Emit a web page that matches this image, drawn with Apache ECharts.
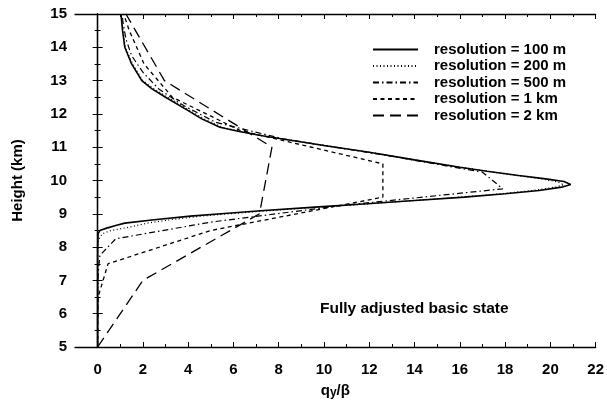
<!DOCTYPE html>
<html>
<head>
<meta charset="utf-8">
<script src="https://cdn.jsdelivr.net/npm/echarts@6/dist/echarts.min.js"></script>
<style>html,body{margin:0;padding:0;background:#fff}#c{width:607px;height:404px}</style>
</head>
<body>
<div id="c"></div>
<script>
// ---- data (q_y/beta vs height in km) ----
const res100_h = [5, 8, 8.4, 8.5, 8.57, 8.65, 8.72, 8.82, 8.93, 9.01, 9.09, 9.2, 9.3, 9.4, 9.5, 9.6, 9.7, 9.8, 9.88, 9.97, 10.05, 10.15, 10.28, 10.4, 10.62, 10.85, 11.05, 11.2, 11.35, 11.48, 11.6, 11.85, 12.1, 12.5, 12.75, 13, 13.5, 14, 14.5, 15];
const res100_q = [0, 0, 0.02, 0.1, 0.4, 0.8, 1.2, 2.5, 4.1, 5.6, 7.2, 9.6, 11.9, 14.0, 16.2, 18.0, 19.5, 20.5, 20.9, 20.6, 19.8, 18.6, 17.2, 16.0, 14.0, 12.0, 10.0, 8.6, 7.2, 6.2, 5.4, 4.6, 4.0, 3.0, 2.4, 1.95, 1.5, 1.2, 1.1, 1.03];

const res200_h = [5, 7.8, 8.2, 8.4, 8.5, 8.6, 8.72, 8.82, 8.93, 9.01, 9.09, 9.2, 9.3, 9.4, 9.5, 9.6, 9.7, 9.8, 9.87, 9.96, 10.05, 10.15, 10.28, 10.4, 10.62, 10.85, 11.05, 11.2, 11.35, 11.48, 11.6, 11.85, 12.1, 12.5, 12.75, 13, 13.5, 14, 14.5, 15];
const res200_q = [0, 0, 0.03, 0.2, 0.6, 1.4, 2.2, 3.2, 4.6, 6.0, 7.5, 9.8, 12.0, 14.0, 16.0, 17.8, 19.2, 20.2, 20.6, 20.3, 19.6, 18.5, 17.2, 16.0, 14.0, 12.0, 10.0, 8.6, 7.2, 6.3, 5.5, 4.7, 4.1, 3.1, 2.5, 2.0, 1.55, 1.22, 1.12, 1.05];

const res500_h = [5, 6.75, 7.25, 7.75, 8.25, 8.75, 9.25, 9.75, 10.25, 10.75, 11.25, 11.75, 12.25, 12.75, 13.25, 13.75, 14.25, 14.75, 15];
const res500_q = [0, 0, 0.03, 0.1, 0.8, 5.0, 10.8, 17.9, 17.0, 12.8, 8.2, 5.2, 3.8, 2.7, 2.0, 1.5, 1.25, 1.12, 1.08];

const res1k_h = [5, 5.5, 6.5, 7.5, 8.5, 9.5, 10.5, 11.5, 12.5, 13.5, 14.5, 15];
const res1k_q = [0, 0, 0.02, 0.46, 5.0, 12.6, 12.6, 6.3, 3.3, 2.05, 1.4, 1.15];

const res2k_h = [5, 7, 9, 11, 13, 15];
const res2k_q = [0, 2.0, 7.15, 7.7, 2.95, 1.25];

const seriesNames = ['resolution = 100 m', 'resolution = 200 m', 'resolution = 500 m', 'resolution = 1 km', 'resolution = 2 km'];
const xMajorTicks = [0, 2, 4, 6, 8, 10, 12, 14, 16, 18, 20, 22];
const xMinorTicks = [1, 3, 5, 7, 9, 11, 13, 15, 17, 19, 21];
const annotation = 'Fully adjusted basic state';

function pairs(q, h) { return q.map((v, i) => [v, h[i]]); }

const dashes = ['solid', [1, 2.5], [6, 3, 1.5, 3], [4, 3.5], [11, 6]];
const dataSets = [
  pairs(res100_q, res100_h),
  pairs(res200_q, res200_h),
  pairs(res500_q, res500_h),
  pairs(res1k_q, res1k_h),
  pairs(res2k_q, res2k_h)
];
const widths = [1.6, 1.2, 1.2, 1.3, 1.3];

const FONT = '"Liberation Sans", Arial, sans-serif';
const boldTxt = { fontFamily: FONT, fontWeight: 'bold', color: '#000' };

function xAx(pos, ticks, len, labels, line) {
  return {
    type: 'value', min: -1, max: 22, interval: 1, position: pos,
    axisLine: { show: line, lineStyle: { color: '#000', width: 1.3 } },
    axisTick: { show: true, inside: true, length: len, customValues: ticks, lineStyle: { color: '#000', width: 1 } },
    axisLabel: labels ? Object.assign({ show: true, customValues: xMajorTicks, fontSize: 15, margin: 15 }, boldTxt) : { show: false },
    splitLine: { show: false }
  };
}

const chart = echarts.init(document.getElementById('c'), null, { renderer: 'canvas' });
chart.setOption({
  animation: false,
  backgroundColor: '#fff',
  grid: { left: 75, right: 10, top: 14, bottom: 54, containLabel: false },
  title: {
    text: annotation, left: 315, top: 296,
    textStyle: Object.assign({ fontSize: 15.5 }, boldTxt)
  },
  legend: {
    orient: 'vertical', left: 367, top: 37,
    itemWidth: 45, itemHeight: 10, itemGap: 1.5,
    data: seriesNames,
    itemStyle: { color: 'rgba(0,0,0,0)', borderWidth: 0, opacity: 0 },
    textStyle: Object.assign({ fontSize: 15, padding: [0, 0, 0, 11] }, boldTxt)
  },
  xAxis: [
    Object.assign(xAx('bottom', xMajorTicks, 5, true, true), {
      name: '{q|q}{s|y}{q|/β}', nameLocation: 'middle', nameGap: 36,
      nameTextStyle: {
        rich: {
          q: Object.assign({ fontSize: 15 }, boldTxt),
          s: Object.assign({ fontSize: 12, padding: [4, 0, 0, 0] }, boldTxt)
        }
      }
    }),
    xAx('bottom', xMinorTicks, 3, false, false),
    xAx('top', xMajorTicks, 5, false, true),
    xAx('top', xMinorTicks, 3, false, false)
  ],
  yAxis: [
    {
      type: 'value', min: 5, max: 15, interval: 1, position: 'left',
      name: 'Height (km)', nameLocation: 'middle', nameGap: 50, nameRotate: 90,
      nameTextStyle: Object.assign({ fontSize: 15 }, boldTxt),
      axisLine: { show: true, lineStyle: { color: '#000', width: 1.3 } },
      axisTick: { show: true, inside: true, length: 5, lineStyle: { color: '#000' } },
      minorTick: { show: true, splitNumber: 2, length: 3, lineStyle: { color: '#000' } },
      axisLabel: Object.assign({ fontSize: 15, margin: 8 }, boldTxt),
      splitLine: { show: false }
    },
    {
      type: 'value', min: 5, max: 15, interval: 1, position: 'right',
      axisLine: { show: true, lineStyle: { color: '#000', width: 1.3 } },
      axisTick: { show: true, inside: true, length: 5, lineStyle: { color: '#000' } },
      minorTick: { show: true, splitNumber: 2, length: 3, lineStyle: { color: '#000' } },
      axisLabel: { show: false },
      splitLine: { show: false }
    }
  ],
  series: seriesNames.map((n, i) => ({
    name: n, type: 'line', xAxisIndex: 0, yAxisIndex: 0,
    data: dataSets[i], showSymbol: false, symbol: 'none',
    smooth: false, clip: true,
    lineStyle: { color: '#000', width: widths[i], type: dashes[i] },
    itemStyle: { color: '#000' }
  }))
});
</script>
</body>
</html>
